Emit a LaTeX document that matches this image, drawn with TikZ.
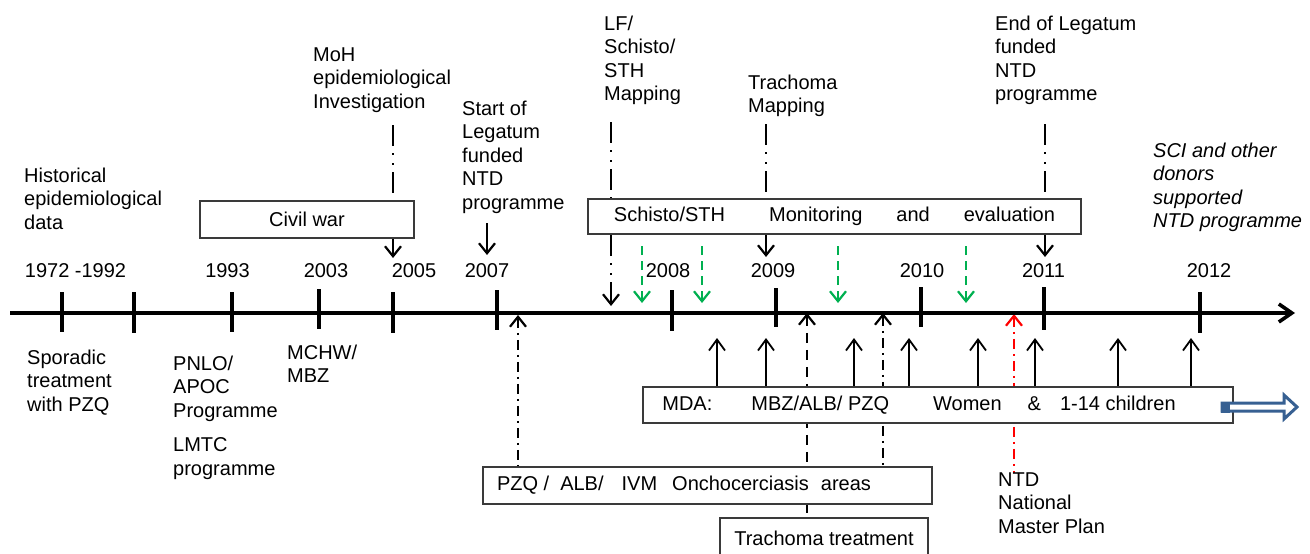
\documentclass[tikz,border=0pt]{standalone}
\usepackage{fontspec}
\setmainfont{Liberation Sans}
\usetikzlibrary{arrows.meta}
\definecolor{boxgray}{HTML}{3A3A3A}
\definecolor{grn}{HTML}{00B050}
\definecolor{arrblue}{HTML}{376092}
\pgfdeclarelayer{bglines}
\pgfsetlayers{bglines,main}
\begin{document}
\begin{tikzpicture}[x=1pt,y=-1pt,
  font=\fontsize{20}{23.5}\selectfont,
  lbl/.style={anchor=north west, inner sep=0pt, align=left},
  yr/.style={inner sep=0pt},
  box/.style={draw=boxgray, line width=1.2pt, fill=white, inner sep=0pt},
  plain/.style={line width=2.2pt},
  conn/.style={line width=2.2pt, {Straight Barb[length=10pt,width=16pt]}-},
  gconn/.style={line width=2.2pt, draw=grn, {Straight Barb[length=10pt,width=16pt,color=grn]}-},
  rconn/.style={line width=2.2pt, draw=red, {Straight Barb[length=10pt,width=16pt,color=red]}-},
  upconn/.style={line width=1.8pt, {Straight Barb[length=11pt,width=16pt]}-},
  longdd/.style={dash pattern=on 21pt off 7pt on 2pt off 8pt on 2pt off 7pt},
  dashdot/.style={dash pattern=on 10pt off 5pt on 2pt off 5pt},
  dsh/.style={dash pattern=on 10pt off 7pt},
  gdash/.style={dash pattern=on 9pt off 6pt},
  tickmark/.style={line width=3.5pt}]
\useasboundingbox (0,0) rectangle (1310,554);

% ---------- axis ----------
\coordinate (axL) at (10,313);
\coordinate (axR) at (1295,313);
\draw[line width=3.6pt, -{Straight Barb[length=13pt,width=18pt]}] (axL) -- (axR);

% ticks
\foreach \n/\x/\a/\b in {t1/62/292/332, t2/134/292/333, t3/232/292/332, t4/319/289/329,
  t5/393/292/333, t6/497/290/330, t7/672/290/331, t8/776/288/327, t9/921/287/327,
  t10/1044/287/330, t11/1200/292/333}{
  \coordinate (\n a) at (\x,\a);
  \coordinate (\n b) at (\x,\b);
  \draw[tickmark] (\n a) -- (\n b);
}

% year labels
\node[yr] (y1) at (75.5,271) {1972 -1992};
\node[yr] (y2) at (227.5,271) {1993};
\node[yr] (y3) at (326,271) {2003};
\node[yr] (y4) at (414,271) {2005};
\node[yr] (y5) at (487,271) {2007};
\node[yr] (y6) at (668,271) {2008};
\node[yr] (y7) at (773,271) {2009};
\node[yr] (y8) at (922,271) {2010};
\node[yr] (y9) at (1043.5,271) {2011};
\node[yr] (y10) at (1209,271) {2012};

% ---------- top labels ----------
\node[lbl] (hist) at (24,167.5) {Historical\\epidemiological\\data};
\node[lbl] (moh) at (313,47.5) {MoH\\epidemiological\\Investigation};
\node[lbl] (start) at (462,100.5) {Start of\\Legatum\\funded\\NTD\\programme};
\node[lbl] (lf) at (604,15.5) {LF/\\Schisto/\\STH\\Mapping};
\node[lbl] (trm) at (748,74.5) {Trachoma\\Mapping};
\node[lbl] (endl) at (995,15.5) {End of Legatum\\funded\\NTD\\programme};
\node[lbl, font=\fontsize{20}{23.5}\selectfont\itshape] (sci) at (1153,142.5) {SCI and other\\donors\\supported\\NTD programme};

% ---------- bottom labels ----------
\node[lbl] (spor) at (27,349.5) {Sporadic\\treatment\\with PZQ};
\node[lbl] (pnlo) at (173,355.5) {PNLO/\\APOC\\Programme};
\node[lbl] (lmtc) at (173,437.5) {LMTC\\programme};
\node[lbl] (mchw) at (287,344.5) {MCHW/\\MBZ};
\node[lbl] (nmp) at (998,472.5) {NTD\\National\\Master Plan};

% ---------- boxes ----------
\node[box, minimum width=214pt, minimum height=37pt] (civil) at (307,219.5) {Civil war};
\node[box, minimum width=493pt, minimum height=35pt] (mebox) at (834.5,216.5)
  {Schisto/STH\hspace{44pt}Monitoring\hspace{34pt}and\hspace{34pt}evaluation};
\node[box, minimum width=590pt, minimum height=36pt] (mda) at (938,405)
  {MDA:\hspace{39pt}MBZ/ALB/ PZQ\hspace{44pt}Women\hspace{26pt}\&\hspace{19pt}1-14 children\rule{38pt}{0pt}};
\node[box, minimum width=449pt, minimum height=37pt] (pzq) at (707.5,485.5)
  {PZQ /\hspace{11pt}ALB/\hspace{18pt}IVM\hspace{15pt}Onchocerciasis\hspace{12pt}areas\rule{47pt}{0pt}};
\node[box, minimum width=208pt, minimum height=40pt] (trach) at (824,538) {Trachoma treatment};

% ---------- connectors (on a layer behind the boxes) ----------
\coordinate (mohT) at (393,125);  \coordinate (mohB) at (393,258);
\coordinate (stT) at (487,223);   \coordinate (stB) at (487,255);
\coordinate (lfT) at (611,122);   \coordinate (lfB) at (611,306);
\coordinate (trT) at (766,124);   \coordinate (trB) at (766,257);
\coordinate (enT) at (1045,124);  \coordinate (enB) at (1045,257);
\coordinate (ob) at (518,315);
\coordinate (tb) at (807,313);
\coordinate (pb) at (883,313);
\coordinate (rb) at (1014,314);

\begin{pgfonlayer}{bglines}
\draw[plain, longdd] (mohT) -- (mohT |- civil.north);
\draw[conn, longdd] (mohB) -- (mohB |- civil.south);
\draw[conn] (stB) -- (stT);
\draw[plain, longdd] (lfT) -- (lfT |- mebox.north);
\draw[conn, longdd] (lfB) -- (lfB |- mebox.south);
\draw[plain, longdd] (trT) -- (trT |- mebox.north);
\draw[conn, longdd] (trB) -- (trB |- mebox.south);
\draw[plain, longdd] (enT) -- (enT |- mebox.north);
\draw[conn, longdd] (enB) -- (enB |- mebox.south);

% green monitoring arrows
\foreach \n/\x in {g1/642, g2/702, g3/838, g4/966}{
  \coordinate (\n b) at (\x,303);
  \draw[gconn, gdash] (\n b) -- ([yshift=-6pt]\n b |- mebox.south);
}

% MDA up arrows
\foreach \n/\x in {m1/717, m2/766, m3/854, m4/909, m5/978, m6/1035, m7/1118, m8/1191}{
  \coordinate (\n b) at (\x,338);
  \draw[upconn] (\n b) -- (\n b |- mda.north);
}

% treatment lines to axis
\draw[conn, dashdot] (ob) -- (ob |- pzq.north);
\draw[conn, dsh] (tb) -- (tb |- trach.north);
\draw[conn, dashdot] (pb) -- (pb |- pzq.north);
\draw[rconn, dashdot] (rb) -- (rb |- nmp.north);
\end{pgfonlayer}

% ---------- continuation arrow ----------
\draw[draw=arrblue, line width=3pt, fill=white, line join=miter]
  (1222,403) -- (1284,403) -- (1284,395) -- (1297,407) -- (1284,419) -- (1284,411) -- (1222,411) -- cycle;
\fill[arrblue] (1221,401.5) rectangle (1230,412.5);
\end{tikzpicture}
\end{document}
